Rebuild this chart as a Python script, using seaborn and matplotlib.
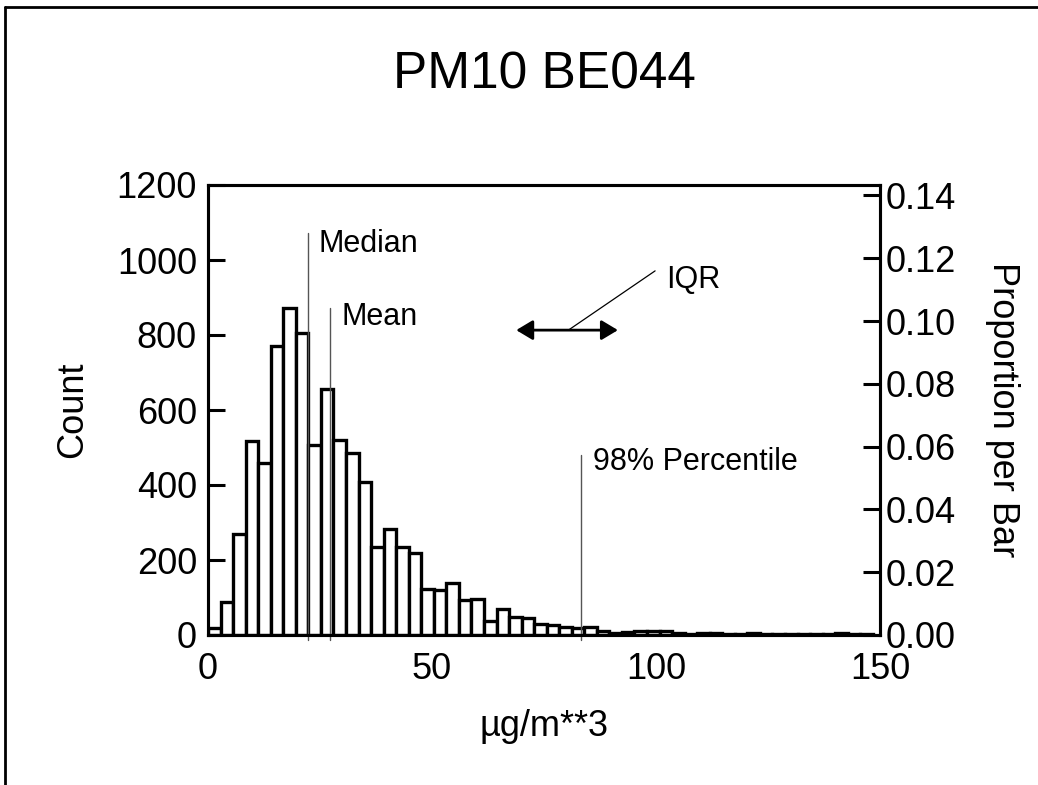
import numpy as np
import pandas as pd
import matplotlib
matplotlib.use("Agg")
import matplotlib.pyplot as plt
import seaborn as sns
from matplotlib.lines import Line2D

# ---- data ----
bin_width = 2.8
counts = [20, 89, 269, 517, 458, 772, 873, 806, 507, 657,
          521, 486, 409, 236, 284, 236, 220, 122, 119, 140,
          93, 95, 37, 69, 48, 45, 30, 26, 21, 20,
          21, 12, 6, 8, 12, 11, 12, 5, 4, 6,
          5, 4, 4, 5, 3, 4, 4, 3, 2, 3,
          5, 4, 4]
median_val = 22.3
mean_val = 27.2
p98_val = 83.2
iqr_start = 68.8
iqr_width = 22.7

title = "PM10 BE044"
xlabel = "µg/m**3"
ylabel_left = "Count"
ylabel_right = "Proportion per Bar"
xticks = [0, 50, 100, 150]
yticks_left = [0, 200, 400, 600, 800, 1000, 1200]
yticks_right = [0.00, 0.02, 0.04, 0.06, 0.08, 0.10, 0.12, 0.14]

nbins = len(counts)
centers = (np.arange(nbins) + 0.5) * bin_width
N = float(sum(counts))

sns.set_theme(style="white")
plt.rcParams['font.family'] = ['Liberation Sans', 'DejaVu Sans']
plt.rcParams['text.color'] = 'black'
plt.rcParams['axes.labelcolor'] = 'black'
plt.rcParams['xtick.color'] = 'black'
plt.rcParams['ytick.color'] = 'black'

fig = plt.figure(figsize=(10.38, 7.85), dpi=100)
ax = fig.add_axes([208 / 1038, 1 - 635 / 785, 672 / 1038, 450 / 785])

df = pd.DataFrame({"x": centers, "count": counts})
sns.histplot(data=df, x="x", weights="count", binwidth=bin_width,
             binrange=(0, nbins * bin_width), stat="count",
             ax=ax, color="white", edgecolor="black", linewidth=2.4, alpha=1)

ax.set_xlim(0, 150)
ax.set_ylim(0, 1200)
ax.set_xticks(xticks)
ax.set_yticks(yticks_left)
ax.set_xlabel(xlabel, fontsize=26, labelpad=16)
ax.set_ylabel(ylabel_left, fontsize=26, labelpad=19)
ax.tick_params(axis='x', direction='in', length=12, width=2.2,
               labelsize=26, color='black', pad=12)
ax.tick_params(axis='y', direction='in', length=12, width=2.2,
               labelsize=26, color='black', pad=8)
for s in ax.spines.values():
    s.set_color('black')
    s.set_linewidth(2.2)

ax2 = ax.twinx()
ax2.set_ylim(0, 1200 / N)
ax2.set_yticks(yticks_right)
ax2.set_yticklabels([f"{v:.2f}" for v in yticks_right])
ax2.tick_params(axis='y', direction='in', length=12, width=2.2,
                labelsize=26, color='black', pad=4)
ax2.set_ylabel(ylabel_right, fontsize=26, rotation=-90, labelpad=46)
for s in ax2.spines.values():
    s.set_color('black')
    s.set_linewidth(2.2)
ax2.grid(False)
ax.grid(False)

fig.text(544 / 1038, 1 - 75 / 785, title, fontsize=37, ha='center',
         va='center', color='black')

# reference lines
line_kw = dict(color='#555555', lw=1.0, clip_on=False, zorder=5)
ax.plot([median_val, median_val], [-14, 1072], **line_kw)
ax.plot([mean_val, mean_val], [-14, 872], **line_kw)
ax.plot([p98_val, p98_val], [-14, 480], **line_kw)
ax.text(median_val + 2.4, 1021, "Median", fontsize=22, va='baseline', ha='left')
ax.text(mean_val + 2.5, 827, "Mean", fontsize=22, va='baseline', ha='left')
ax.text(p98_val + 2.7, 440, "98% Percentile", fontsize=22, va='baseline', ha='left')

# IQR marker
y_iqr = 813
ax.annotate('', xy=(iqr_start, y_iqr), xytext=(iqr_start + iqr_width, y_iqr),
            arrowprops=dict(arrowstyle='<|-|>,head_length=0.5,head_width=0.3',
                            color='black', lw=2, mutation_scale=20,
                            shrinkA=0, shrinkB=0))
mid = iqr_start + iqr_width / 2 + 0.3
ax.plot([mid, 99.8], [y_iqr, 971], color='black', lw=0.9)
ax.text(102.3, 925, "IQR", fontsize=22, va='baseline', ha='left')

# figure border (left and top edges)
fig.add_artist(Line2D([5 / 1038, 5 / 1038], [0, 1 - 7 / 785],
                      transform=fig.transFigure, color='black', lw=2))
fig.add_artist(Line2D([5 / 1038, 1], [1 - 7 / 785, 1 - 7 / 785],
                      transform=fig.transFigure, color='black', lw=2))

fig.savefig("out.png", dpi=100, facecolor='white')
